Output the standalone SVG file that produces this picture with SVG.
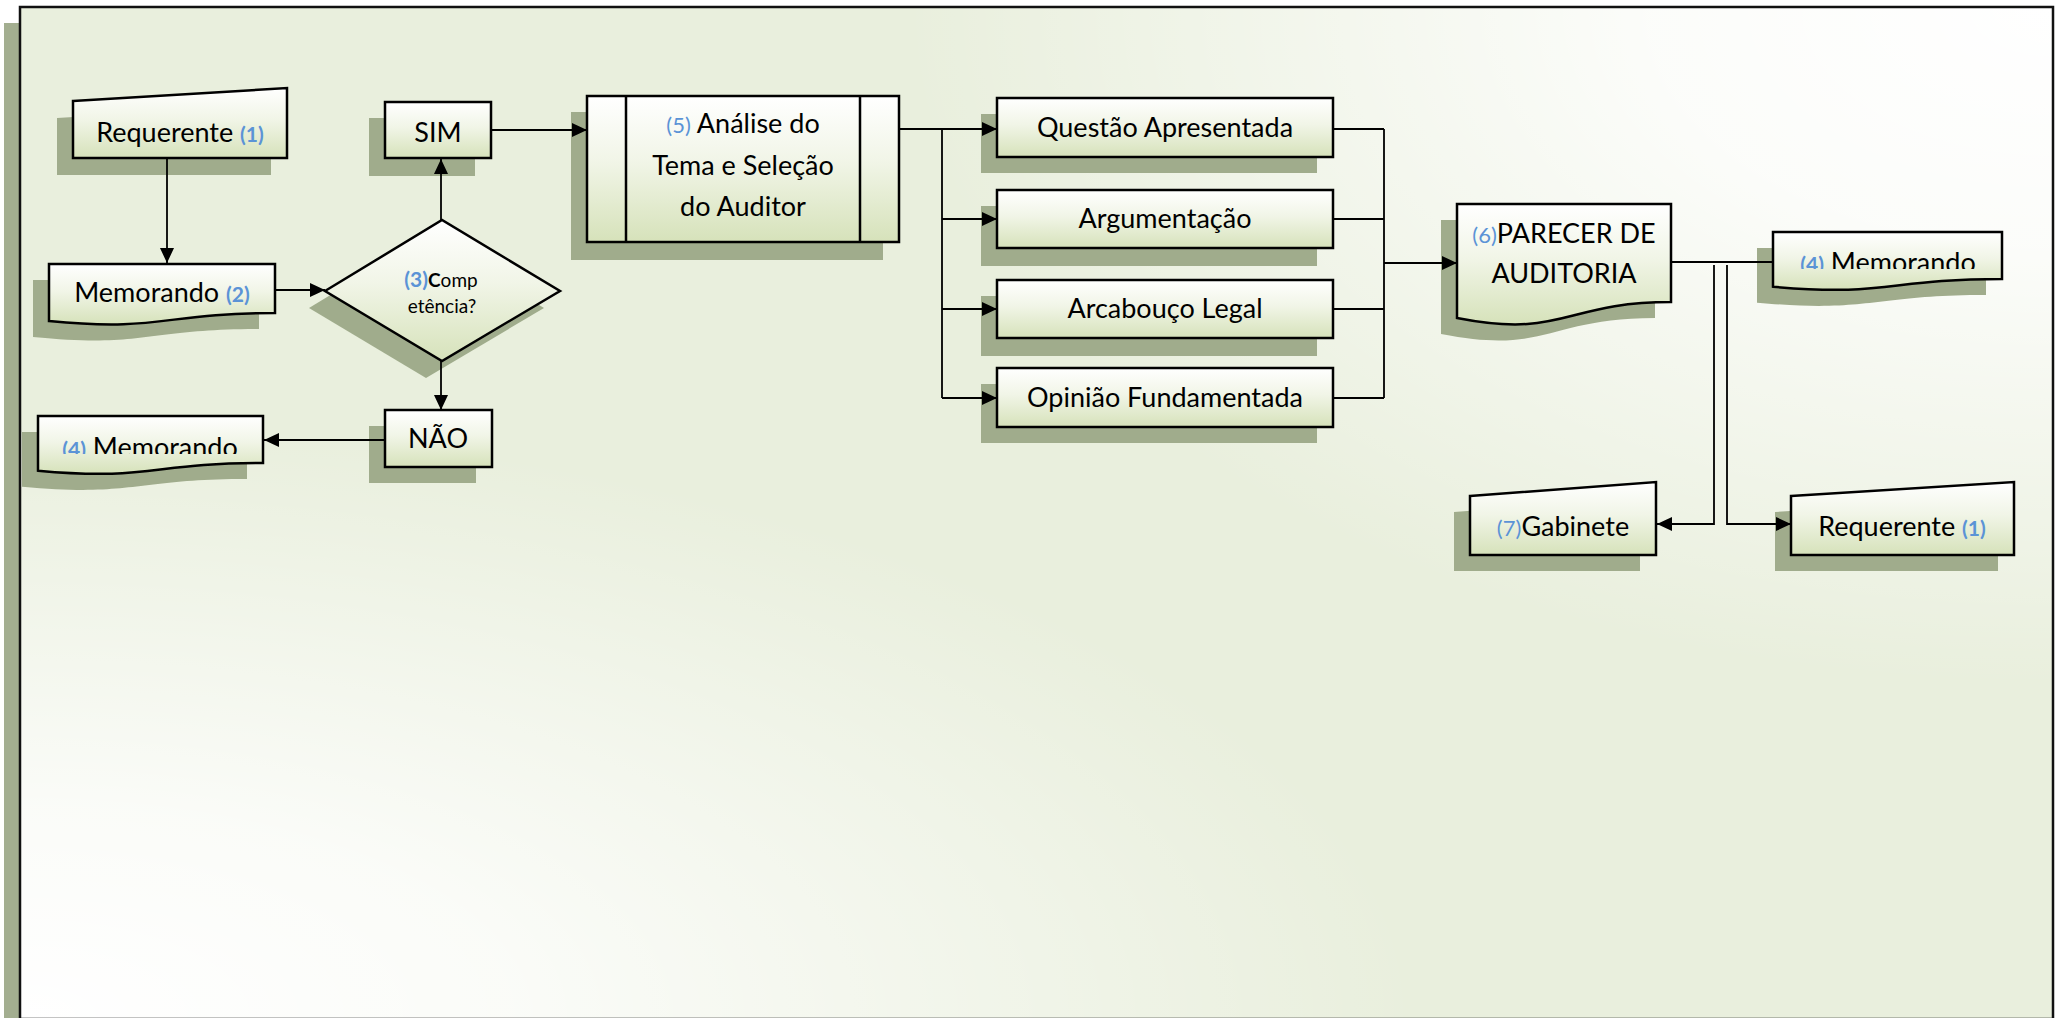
<svg xmlns="http://www.w3.org/2000/svg" width="2062" height="1018" viewBox="0 0 2062 1018">
  <style>
    .shape { fill: url(#nodeFill); stroke: #000; stroke-width: 2.5; stroke-linejoin: miter; }
    .bar { fill: none; stroke: #000; stroke-width: 2.5; }
    .shadow { fill: #a0ac8c; }
    .lbl { font-family: Lato, "Liberation Sans", sans-serif; font-size: 27px; fill: #000; text-anchor: middle; }
    .sm { font-size: 19px; }
    .num { fill: #5b93d6; font-weight: bold; font-size: 21px; }
    .numr { fill: #5b93d6; font-size: 22px; }
    .conn { fill: none; stroke: #000; stroke-width: 1.8; }
    .arrow { marker-end: url(#head); }
  </style>
  <defs>
    <linearGradient id="nodeFill" x1="0" y1="0" x2="0" y2="1">
      <stop offset="0" stop-color="#ffffff"/>
      <stop offset="0.45" stop-color="#f1f5e7"/>
      <stop offset="1" stop-color="#d6e2ba"/>
    </linearGradient>
    <radialGradient id="glowTR" gradientUnits="userSpaceOnUse" cx="0" cy="0" r="1" gradientTransform="translate(2053 7) scale(1150 680)">
      <stop offset="0" stop-color="#ffffff" stop-opacity="1"/>
      <stop offset="0.35" stop-color="#ffffff" stop-opacity="0.85"/>
      <stop offset="1" stop-color="#ffffff" stop-opacity="0"/>
    </radialGradient>
    <radialGradient id="glowBL" gradientUnits="userSpaceOnUse" cx="0" cy="0" r="1" gradientTransform="translate(20 1017) scale(1400 600)">
      <stop offset="0" stop-color="#ffffff" stop-opacity="1"/>
      <stop offset="0.35" stop-color="#ffffff" stop-opacity="0.8"/>
      <stop offset="1" stop-color="#ffffff" stop-opacity="0"/>
    </radialGradient>
    <marker id="head" markerUnits="userSpaceOnUse" markerWidth="16" markerHeight="14" refX="15" refY="7" orient="auto">
      <path d="M0,0 L15,7 L0,14 Z" fill="#000"/>
    </marker>
    <clipPath id="cutL"><rect x="30" y="410" width="240" height="44"/></clipPath>
    <clipPath id="cutR"><rect x="1765" y="226" width="245" height="43"/></clipPath>
  </defs>

  <!-- page background and frame -->
  <rect x="0" y="0" width="2062" height="1018" fill="#ffffff"/>
  <rect x="4" y="23" width="2033" height="1010" fill="#a3ae90"/>
  <rect x="20" y="7" width="2033" height="1012" fill="#e9efdd"/>
  <rect x="20" y="7" width="2033" height="1012" fill="url(#glowTR)"/>
  <rect x="20" y="7" width="2033" height="1012" fill="url(#glowBL)"/>
  <rect x="20" y="7" width="2033" height="1012" fill="none" stroke="#111" stroke-width="2.5"/>

  <!-- (1) Requerente, input -->
  <g id="requerente-in">
    <polygon class="shadow" points="57,118 271,105 271,175 57,175"/>
    <polygon class="shape" points="73,101 287,88 287,158 73,158"/>
    <text class="lbl" x="180" y="142">Requerente <tspan class="num">(1)</tspan></text>
  </g>

  <!-- (2) Memorando -->
  <g id="memorando-2">
    <path class="shadow" d="M33 280 H259 V329 C146 329 146 348 33 337 Z"/>
    <path class="shape" d="M49 264 H275 V313 C162 313 162 332 49 321 Z"/>
    <text class="lbl" x="162" y="302">Memorando <tspan class="num">(2)</tspan></text>
  </g>

  <!-- (3) decision -->
  <g id="decisao-3">
    <polygon class="shadow" points="309,308 426,237 544,308 426,378"/>
    <polygon class="shape" points="325,291 442,220 560,291 442,361"/>
    <text class="lbl sm" x="441" y="287"><tspan class="num" font-size="19px">(3)</tspan><tspan font-weight="bold">C</tspan>omp</text>
    <text class="lbl sm" x="442" y="313">etência?</text>
  </g>

  <!-- SIM -->
  <g id="sim">
    <rect class="shadow" x="369" y="118" width="106" height="58"/>
    <rect class="shape" x="385" y="102" width="106" height="56"/>
    <text class="lbl" x="438" y="142">SIM</text>
  </g>

  <!-- NÃO -->
  <g id="nao">
    <rect class="shadow" x="369" y="426" width="107" height="57"/>
    <rect class="shape" x="385" y="410" width="107" height="57"/>
    <text class="lbl" x="438" y="448">NÃO</text>
  </g>

  <!-- (4) Memorando, reply on refusal -->
  <g id="memorando-4a">
    <path class="shadow" d="M22 432 H247 V479 C134.5 479 134.5 497 22 486.7 Z"/>
    <path class="shape" d="M38 416 H263 V463 C150.5 463 150.5 481 38 470.7 Z"/>
    <text class="lbl" x="150" y="457" clip-path="url(#cutL)"><tspan class="num">(4)</tspan> Memorando</text>
  </g>

  <!-- (5) predefined process -->
  <g id="analise-5">
    <rect class="shadow" x="571" y="112" width="312" height="148"/>
    <rect class="shape" x="587" y="96" width="312" height="146"/>
    <path class="bar" d="M626 96 V242 M860 96 V242"/>
    <text class="lbl" x="743" y="133"><tspan class="numr">(5)</tspan> Análise do</text>
    <text class="lbl" x="743" y="175">Tema e Seleção</text>
    <text class="lbl" x="743" y="216">do Auditor</text>
  </g>

  <!-- analysis items -->
  <g id="questao">
    <rect class="shadow" x="981" y="114" width="336" height="59"/>
    <rect class="shape" x="997" y="98" width="336" height="59"/>
    <text class="lbl" x="1165" y="137">Questão Apresentada</text>
  </g>
  <g id="argumentacao">
    <rect class="shadow" x="981" y="206" width="336" height="60"/>
    <rect class="shape" x="997" y="190" width="336" height="58"/>
    <text class="lbl" x="1165" y="228">Argumentação</text>
  </g>
  <g id="arcabouco">
    <rect class="shadow" x="981" y="296" width="336" height="60"/>
    <rect class="shape" x="997" y="280" width="336" height="58"/>
    <text class="lbl" x="1165" y="318">Arcabouço Legal</text>
  </g>
  <g id="opiniao">
    <rect class="shadow" x="981" y="384" width="336" height="59"/>
    <rect class="shape" x="997" y="368" width="336" height="59"/>
    <text class="lbl" x="1165" y="407">Opinião Fundamentada</text>
  </g>

  <!-- (6) report document -->
  <g id="parecer-6">
    <path class="shadow" d="M1441 220 H1655 V318 C1548 318 1548 355 1441 334 Z"/>
    <path class="shape" d="M1457 204 H1671 V302 C1564 302 1564 339 1457 318 Z"/>
    <text class="lbl" x="1564" y="243"><tspan class="numr">(6)</tspan>PARECER DE</text>
    <text class="lbl" x="1564" y="283">AUDITORIA</text>
  </g>

  <!-- (4) Memorando, outgoing -->
  <g id="memorando-4b">
    <path class="shadow" d="M1757 248 H1986 V295 C1871.5 295 1871.5 313 1757 302.7 Z"/>
    <path class="shape" d="M1773 232 H2002 V279 C1887.5 279 1887.5 297 1773 286.7 Z"/>
    <text class="lbl" x="1888" y="272" clip-path="url(#cutR)"><tspan class="num">(4)</tspan> Memorando</text>
  </g>

  <!-- (7) Gabinete -->
  <g id="gabinete-7">
    <polygon class="shadow" points="1454,512 1640,498 1640,571 1454,571"/>
    <polygon class="shape" points="1470,496 1656,482 1656,555 1470,555"/>
    <text class="lbl" x="1563" y="536"><tspan class="numr">(7)</tspan>Gabinete</text>
  </g>

  <!-- (1) Requerente, return -->
  <g id="requerente-out">
    <polygon class="shadow" points="1775,512 1998,498 1998,571 1775,571"/>
    <polygon class="shape" points="1791,496 2014,482 2014,555 1791,555"/>
    <text class="lbl" x="1902" y="536">Requerente <tspan class="num">(1)</tspan></text>
  </g>

  <!-- connectors, drawn over the node shadows -->
  <g id="connectors">
    <path class="conn arrow" d="M167 158 V263"/>
    <path class="conn arrow" d="M275 290 H325"/>
    <path class="conn arrow" d="M441 220 V159"/>
    <path class="conn arrow" d="M441 361 V410"/>
    <path class="conn arrow" d="M385 440 H264"/>
    <path class="conn arrow" d="M491 130 H587"/>
    <path class="conn" d="M899 129 H942 V398"/>
    <path class="conn arrow" d="M942 129 H997"/>
    <path class="conn arrow" d="M942 219 H997"/>
    <path class="conn arrow" d="M942 309 H997"/>
    <path class="conn arrow" d="M942 398 H997"/>
    <path class="conn" d="M1333 129 H1384 M1333 219 H1384 M1333 309 H1384 M1333 398 H1384 M1384 129 V398"/>
    <path class="conn arrow" d="M1384 263 H1457"/>
    <path class="conn" d="M1671 262 H1773"/>
    <path class="conn arrow" d="M1714 265 V524 H1657"/>
    <path class="conn arrow" d="M1727 265 V524 H1791"/>
  </g>
</svg>
